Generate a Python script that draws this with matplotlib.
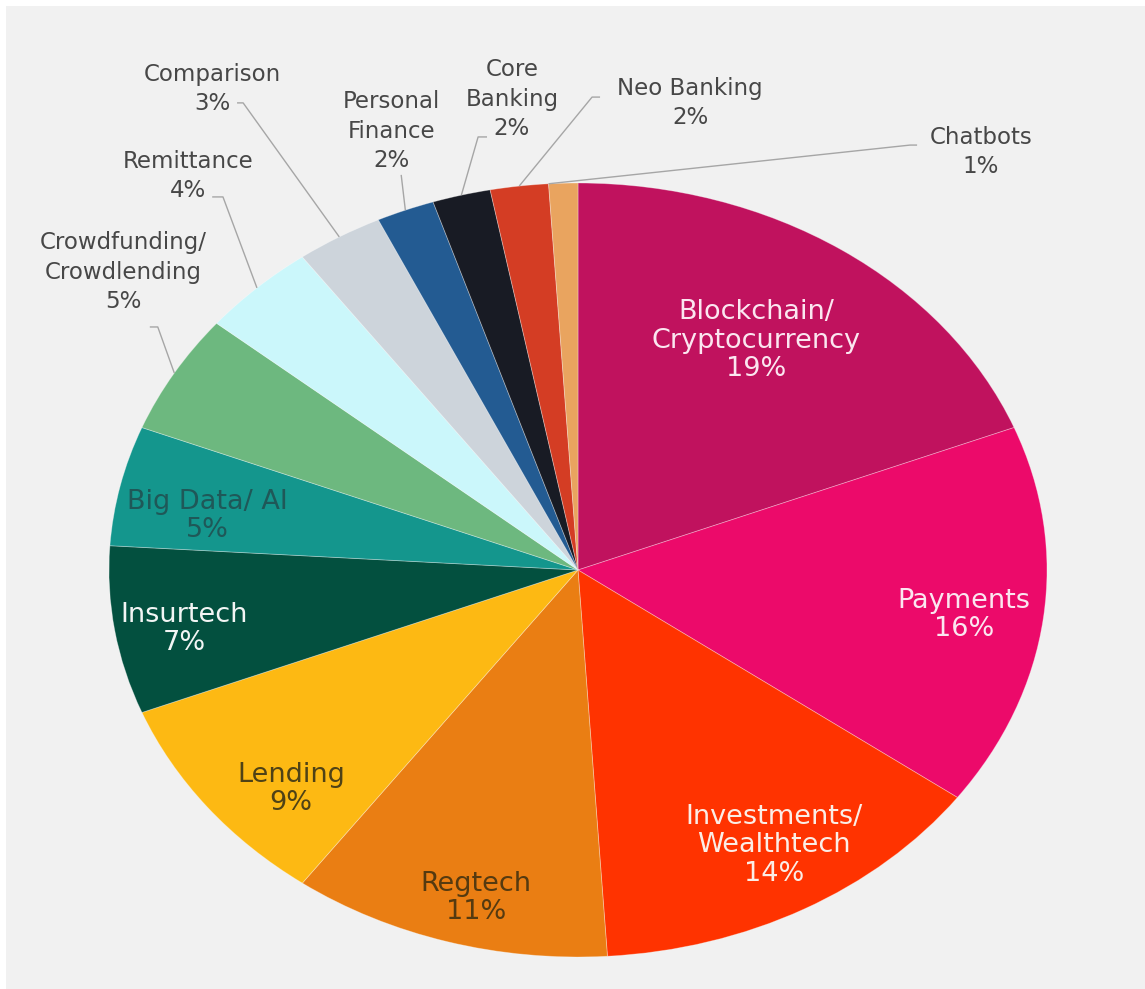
import matplotlib
matplotlib.use("Agg")
import matplotlib.pyplot as plt
from matplotlib.patches import Rectangle
import numpy as np

# Fintech segments, clockwise from 12 o'clock
segments = ["Blockchain/\nCryptocurrency", "Payments", "Investments/\nWealthtech",
            "Regtech", "Lending", "Insurtech", "Big Data/ AI",
            "Crowdfunding/\nCrowdlending", "Remittance", "Comparison",
            "Personal\nFinance", "Core\nBanking", "Neo Banking", "Chatbots"]
shares = [19, 16, 14, 11, 9, 7, 5, 5, 4, 3, 2, 2, 2, 1]

colors = ["#C0125E", "#EC0A6A", "#FF3300", "#EA7E13", "#FDB913", "#03503F",
          "#14968D", "#6DB87F", "#CBF7FB", "#CDD4DB", "#235B92", "#181B24",
          "#D43D24", "#E9A45F"]

# label placement (data units of the stretched pie, radius = 1)
inside = {
    0: ((0.380, 0.592), "#FBE6F0"),
    1: ((0.823, -0.116), "#FBE6F0"),
    2: ((0.418, -0.711), "#FBEDE6"),
    3: ((-0.218, -0.848), "#553A10"),
    4: ((-0.612, -0.566), "#4F4216"),
    5: ((-0.840, -0.152), "#F2F5F4"),
    6: ((-0.791, 0.140), "#1F5858"),
}
# outside labels: text centre, leader elbow, leader end, anchor fraction along the arc
outside = {
    7: ((-0.970, 0.770), (-0.896, 0.628), (-0.913, 0.628), 0.5),
    8: ((-0.832, 1.018), (-0.757, 0.964), (-0.780, 0.964), 0.5),
    9: ((-0.780, 1.243), (-0.714, 1.207), (-0.727, 1.207), 0.5),
    10: ((-0.397, 1.134), (-0.377, 1.021), (-0.377, 1.021), 0.5),
    11: ((-0.141, 1.217), (-0.213, 1.119), (-0.194, 1.119), 0.5),
    12: ((0.239, 1.207), (0.030, 1.222), (0.047, 1.222), 0.5),
    13: ((0.859, 1.080), (0.708, 1.098), (0.723, 1.098), 1.0),
}

fig = plt.figure(figsize=(11.45, 9.89), dpi=100)
fig.patch.set_facecolor("white")
fig.patches.append(Rectangle((6 / 1145, -0.05), 1.1, 1.05 - 6 / 989,
                             transform=fig.transFigure, facecolor="#F1F1F1",
                             edgecolor="none", zorder=-10))

ax = fig.add_axes([0, 0, 1, 1])
ax.set_zorder(1)
ax.patch.set_alpha(0)
wedges, _ = ax.pie(shares, colors=colors, startangle=90, counterclock=False,
                   wedgeprops=dict(linewidth=0.6, edgecolor=(1, 1, 1, 0.35)))
# stretched (elliptical) pie
ax.set_aspect("auto")
ax.set_xlim(-578 / 469, (1145 - 578) / 469)
ax.set_ylim(-(989 - 570) / 387, 570 / 387)
ax.axis("off")

for i, ((x, y), c) in inside.items():
    ax.text(x, y, "%s\n%d%%" % (segments[i], shares[i]), ha="center", va="center",
            multialignment="center", fontsize=19.5, color=c, linespacing=1.13)

for i, (pos, elbow, end, frac) in outside.items():
    w = wedges[i]
    ang = np.deg2rad(w.theta1 + frac * (w.theta2 - w.theta1))
    ax.plot([np.cos(ang), elbow[0], end[0]], [np.sin(ang), elbow[1], end[1]],
            color="#A6A6A6", linewidth=1.0, solid_capstyle="butt")
    ax.text(pos[0], pos[1], "%s\n%d%%" % (segments[i], shares[i]), ha="center",
            va="center", multialignment="center", fontsize=16.5, color="#474747",
            linespacing=1.35)

fig.savefig("out.png", dpi=100)
